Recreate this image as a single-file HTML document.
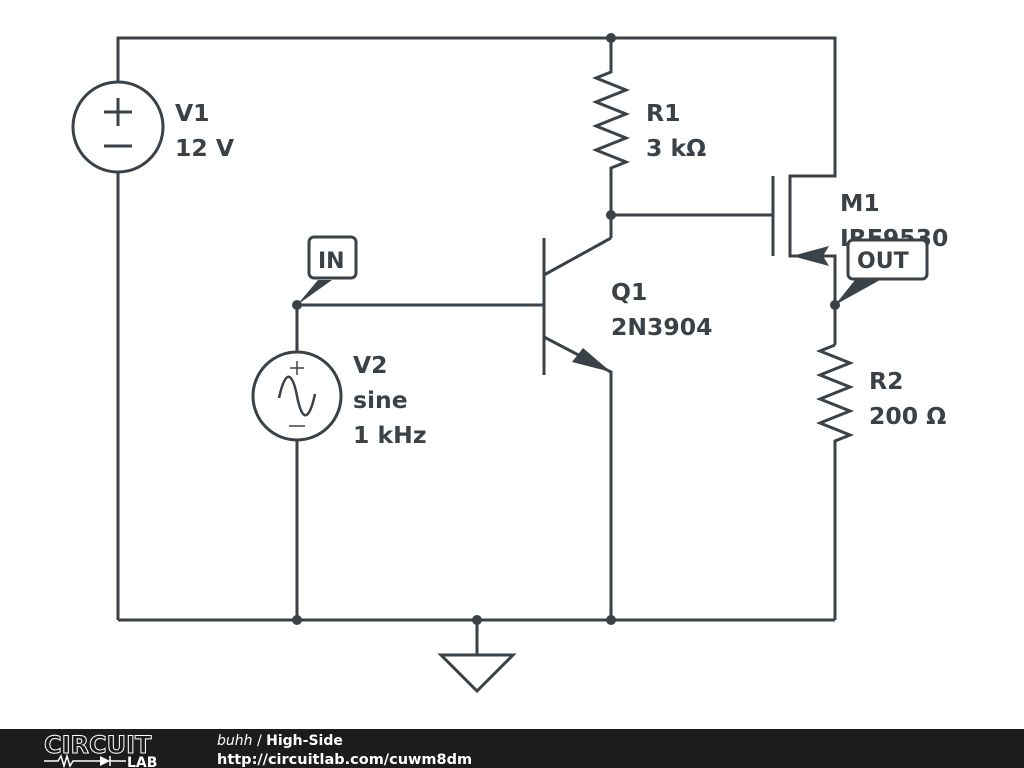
<!DOCTYPE html>
<html><head><meta charset="utf-8"><style>
body{margin:0;width:1024px;height:768px;overflow:hidden;background:#fff}
svg{display:block}
text{font-family:"DejaVu Sans","Liberation Sans",sans-serif;font-weight:bold;fill:#3b4247}
</style></head><body>
<svg width="1024" height="768" viewBox="0 0 1024 768" xmlns="http://www.w3.org/2000/svg">
<g stroke="#3b4247" stroke-width="3" fill="none" stroke-linejoin="miter">
<polyline points="118,82 118,38 835,38 835,176 790,176 790,256 835,256 835,345"/>
<circle cx="118" cy="127" r="45"/>
<line x1="118" y1="172" x2="118" y2="620"/>
<line x1="104" y1="112" x2="132" y2="112"/><line x1="118" y1="98" x2="118" y2="126"/>
<line x1="104" y1="146" x2="132" y2="146"/>
<polyline points="611,38 611,72 596,78 626,90 596,102 626,114 596,126 626,138 596,150 626,162 611,168 611,238"/>
<line x1="611" y1="215" x2="773" y2="215"/>
<line x1="773" y1="176" x2="773" y2="256"/>
<line x1="544" y1="238" x2="544" y2="375"/>
<polyline points="544,275 611,238"/>
<polyline points="544,337 611,372 611,620"/>
<line x1="297" y1="305" x2="544" y2="305"/>
<line x1="297" y1="305" x2="297" y2="352"/>
<circle cx="297" cy="396" r="44"/>
<line x1="297" y1="440" x2="297" y2="620"/>
<path d="M279,398 C285,370 292,370 297,396 C302,422 309,422 315,394" stroke-width="2.5"/>
<line x1="290" y1="368" x2="304" y2="368" stroke-width="1.5"/><line x1="297" y1="361" x2="297" y2="375" stroke-width="1.5"/>
<line x1="289" y1="426" x2="305" y2="426" stroke-width="1.5"/>
<polyline points="835,345 820,351 850,363 820,375 850,387 820,399 850,411 820,423 850,435 835,441 835,620"/>
<polyline points="118,620 835,620"/>
<line x1="477" y1="620" x2="477" y2="655"/>
<polygon points="441,655 513,655 477,691"/>
</g>
<g fill="#3b4247" stroke="none">
<circle cx="611" cy="38" r="5"/><circle cx="611" cy="215" r="5"/>
<circle cx="297" cy="305" r="5"/><circle cx="297" cy="620" r="5"/>
<circle cx="477" cy="620" r="5"/><circle cx="611" cy="620" r="5"/>
<circle cx="835" cy="305" r="5"/>
<polygon points="611,372 572,362 583,348 "/>
<polygon points="792,256 829,246 823,256 829,266"/>
<polygon points="297,305 318,280 332,280"/>
<polygon points="835,305 855,280 880,280"/>
</g>
<rect x="309" y="237" width="47" height="41" rx="5" fill="#fff" stroke="#3b4247" stroke-width="3"/>
<text x="318" y="268" font-size="22">IN</text>
<text x="175" y="121" font-size="23.5">V1</text>
<text x="175" y="156" font-size="23.5">12 V</text>
<text x="646" y="121" font-size="23.5">R1</text>
<text x="646" y="156" font-size="23.5">3 kΩ</text>
<text x="840" y="211" font-size="23.5">M1</text>
<text x="840" y="246" font-size="23.5">IRF9530</text>
<rect x="848" y="240" width="79" height="39" rx="5" fill="#fff" stroke="#3b4247" stroke-width="3"/>
<text x="857" y="268" font-size="22">OUT</text>
<text x="611" y="300" font-size="23.5">Q1</text>
<text x="611" y="335" font-size="23.5">2N3904</text>
<text x="353" y="373" font-size="23.5">V2</text>
<text x="353" y="408" font-size="23.5">sine</text>
<text x="353" y="443" font-size="23.5">1 kHz</text>
<text x="869" y="389" font-size="23.5">R2</text>
<text x="869" y="424" font-size="23.5">200 Ω</text>
<rect x="0" y="729" width="1024" height="39" fill="#1c1c1c"/>
<text x="44" y="753" font-size="24" font-weight="normal" style="fill:none;stroke:#fff;stroke-width:1">CIRCUIT</text>
<text x="127" y="767" font-size="14" style="fill:#fff">LAB</text>
<polyline points="44,761 58,761 61,756 64,766 67,756 70,766 73,761 100,761" stroke="#fff" fill="none" stroke-width="1.5"/>
<polygon points="100,756 100,766 110,761" fill="#fff"/>
<line x1="110" y1="756" x2="110" y2="766" stroke="#fff" stroke-width="1.5"/>
<line x1="110" y1="761" x2="126" y2="761" stroke="#fff" stroke-width="1.5"/>
<text x="217" y="745" font-size="14" style="fill:#fff"><tspan font-style="italic" font-weight="normal">buhh</tspan><tspan font-weight="normal"> / </tspan>High-Side</text>
<text x="217" y="764" font-size="14.5" font-weight="normal" style="fill:#fff">http://circuitlab.com/cuwm8dm</text>
</svg>
</body></html>
